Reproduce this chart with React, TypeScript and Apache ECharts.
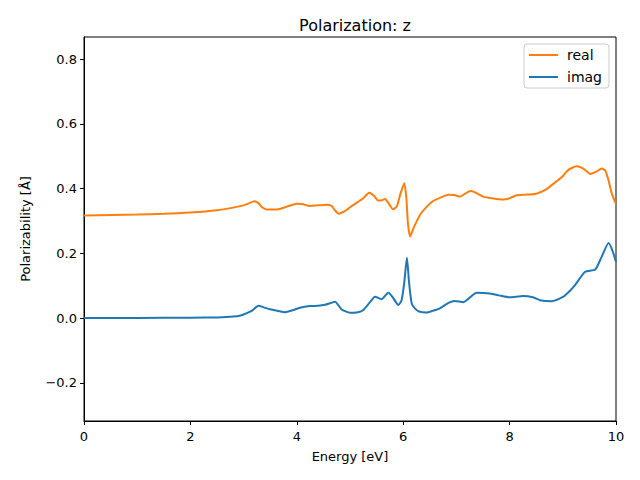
import React, { useEffect, useRef } from "react";
import * as echarts from "echarts";

const realEnergy = [0, 1, 1.5, 2, 2.5, 2.8, 3.0, 3.1, 3.2, 3.28, 3.35, 3.43, 3.55, 3.68, 3.85, 4.0, 4.1, 4.25, 4.4, 4.59, 4.66, 4.72, 4.79, 4.9, 5.05, 5.25, 5.36, 5.45, 5.53, 5.6, 5.66, 5.72, 5.81, 5.88, 5.95, 6.02, 6.06, 6.09, 6.13, 6.2, 6.32, 6.45, 6.56, 6.7, 6.85, 6.96, 7.07, 7.17, 7.26, 7.35, 7.5, 7.7, 7.88, 8.0, 8.13, 8.3, 8.48, 8.6, 8.7, 8.88, 9.0, 9.1, 9.26, 9.38, 9.52, 9.63, 9.73, 9.8, 9.86, 9.92, 10];
const realValues = [0.317, 0.32, 0.322, 0.326, 0.333, 0.341, 0.348, 0.354, 0.361, 0.355, 0.342, 0.335, 0.335, 0.337, 0.346, 0.353, 0.352, 0.346, 0.348, 0.35, 0.345, 0.332, 0.322, 0.33, 0.348, 0.37, 0.387, 0.378, 0.363, 0.364, 0.368, 0.356, 0.336, 0.345, 0.385, 0.416, 0.37, 0.29, 0.252, 0.28, 0.32, 0.345, 0.361, 0.372, 0.381, 0.38, 0.375, 0.385, 0.392, 0.388, 0.375, 0.369, 0.366, 0.37, 0.379, 0.381, 0.383, 0.39, 0.399, 0.422, 0.438, 0.457, 0.469, 0.462, 0.445, 0.452, 0.462, 0.455, 0.425, 0.385, 0.352];

const imagEnergy = [0, 1, 2, 2.5, 2.75, 2.9, 3.0, 3.15, 3.28, 3.38, 3.5, 3.65, 3.78, 3.92, 4.06, 4.25, 4.4, 4.53, 4.65, 4.72, 4.78, 4.84, 5.0, 5.15, 5.25, 5.38, 5.47, 5.59, 5.72, 5.8, 5.91, 5.97, 6.02, 6.07, 6.11, 6.16, 6.22, 6.3, 6.44, 6.55, 6.69, 6.85, 6.97, 7.13, 7.25, 7.38, 7.63, 7.8, 8.0, 8.25, 8.44, 8.57, 8.79, 9.01, 9.12, 9.23, 9.42, 9.61, 9.73, 9.86, 9.93, 10];
const imagValues = [0.0, 0.0005, 0.001, 0.002, 0.004, 0.006, 0.011, 0.022, 0.038, 0.033, 0.027, 0.022, 0.018, 0.024, 0.032, 0.037, 0.038, 0.041, 0.047, 0.05, 0.04, 0.027, 0.016, 0.018, 0.025, 0.05, 0.066, 0.058, 0.078, 0.065, 0.04, 0.055, 0.11, 0.186, 0.11, 0.045, 0.03, 0.02, 0.017, 0.022, 0.03, 0.047, 0.053, 0.049, 0.063, 0.078, 0.076, 0.07, 0.064, 0.068, 0.064, 0.055, 0.052, 0.066, 0.082, 0.102, 0.143, 0.15, 0.189, 0.232, 0.21, 0.173];

const seriesNames = ["real", "imag"];
const titleText = "Polarization: z";
const xName = "Energy [eV]";
const yName = "Polarizability [Å]";

const FONT = "DejaVu Sans";
const LEGEND_LINE =
  "path://M0,0L0.01,0L0.01,0.01Z M0,6L29,6L29,8L0,8Z M0,14L0.01,14L0.01,13.99Z";

export default function App() {
  const ref = useRef<HTMLDivElement>(null);
  useEffect(() => {
    if (!ref.current) return;
    const chart = echarts.init(ref.current, undefined, { renderer: "svg" });
    const realData = realEnergy.map((e, i) => [e, realValues[i]]);
    const imagData = imagEnergy.map((e, i) => [e, imagValues[i]]);
    chart.setOption({
      animation: false,
      backgroundColor: "#ffffff",
      title: {
        text: titleText,
        left: 350,
        textAlign: "center",
        top: 12,
        textStyle: { fontFamily: FONT, fontSize: 16, fontWeight: "normal", color: "#000" },
      },
      legend: {
        orient: "vertical",
        left: 524,
        top: 44,
        padding: [4, 7, 4, 5],
        itemWidth: 29,
        itemHeight: 14,
        itemGap: 8,
        icon: LEGEND_LINE,
        backgroundColor: "rgba(255,255,255,0.8)",
        borderColor: "#cccccc",
        borderWidth: 1,
        borderRadius: 3,
        textStyle: { fontFamily: FONT, fontSize: 14, color: "#000", padding: [0, 0, 0, 4] },
        data: seriesNames,
      },
      grid: {
        left: 84,
        right: 24,
        top: 37,
        bottom: 59,
        show: true,
        borderColor: "#000",
        borderWidth: 1,
        backgroundColor: "transparent",
      },
      xAxis: {
        type: "value",
        min: 0,
        max: 10,
        interval: 2,
        name: xName,
        nameLocation: "middle",
        nameGap: 29,
        nameTextStyle: { fontFamily: FONT, fontSize: 13, color: "#000" },
        axisLine: { show: true, onZero: false, lineStyle: { color: "#000", width: 1 } },
        axisTick: { show: true, length: 4, lineStyle: { color: "#000" } },
        axisLabel: { fontFamily: FONT, fontSize: 13, color: "#000", margin: 9 },
        splitLine: { show: false },
      },
      yAxis: {
        type: "value",
        min: -0.318,
        max: 0.868,
        splitNumber: 5,
        name: yName,
        nameLocation: "middle",
        nameGap: 52,
        nameTextStyle: { fontFamily: FONT, fontSize: 13, color: "#000" },
        axisLine: { show: true, onZero: false, lineStyle: { color: "#000", width: 1 } },
        axisTick: { show: true, length: 4, lineStyle: { color: "#000" } },
        axisLabel: {
          fontFamily: FONT,
          fontSize: 13,
          color: "#000",
          margin: 7,
          showMinLabel: false,
          showMaxLabel: false,
          formatter: (v: number) => {
            const r = Math.round(v * 10) / 10;
            if (Math.abs(v - r) > 1e-6) return "";
            return r.toFixed(1).replace("-", "\u2212");
          },
        },
        splitLine: { show: false },
      },
      series: [
        {
          name: seriesNames[0],
          type: "line",
          data: realData,
          symbol: "none",
          smooth: 0.2,
          lineStyle: { color: "#ff7f0e", width: 2 },
          itemStyle: { color: "#ff7f0e" },
          z: 2,
        },
        {
          name: seriesNames[1],
          type: "line",
          data: imagData,
          symbol: "none",
          smooth: 0.2,
          lineStyle: { color: "#1f77b4", width: 2 },
          itemStyle: { color: "#1f77b4" },
          z: 3,
        },
      ],
    });
    return () => chart.dispose();
  }, []);
  return (
    <div
      ref={ref}
      style={{ width: 640, height: 480, position: "absolute", left: 0, top: 0 }}
    />
  );
}
